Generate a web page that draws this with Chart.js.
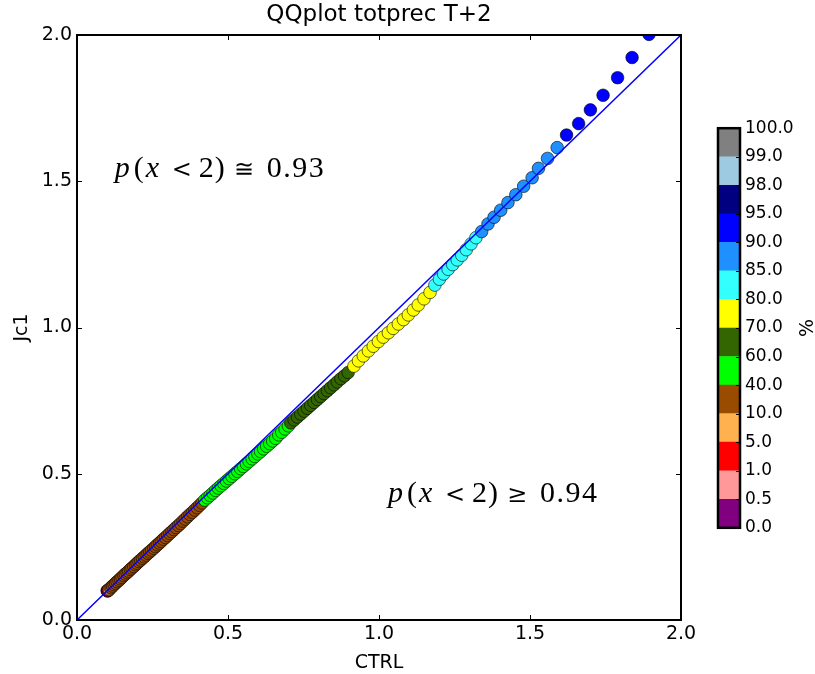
<!DOCTYPE html>
<html>
<head>
<meta charset="utf-8">
<script src="https://cdn.jsdelivr.net/npm/chart.js@4.4.1/dist/chart.umd.min.js"></script>
<style>
  html, body { margin: 0; padding: 0; background: #fff; }
  #wrap { position: relative; width: 815px; height: 674px; }
  #qq { position: absolute; left: 0; top: 0; }
  #cbar { position: absolute; left: 700px; top: 113px; }
</style>
</head>
<body>
<div id="wrap">
  <canvas id="qq" width="815" height="674"></canvas>
  <canvas id="cbar" width="115" height="430"></canvas>
</div>
<script>
// quantile pairs (CTRL, Jc1), split by percentile band
const purpleX = [0.100];
const purpleY = [0.100];
const pinkX = [0.101];
const pinkY = [0.100];
const redX = [0.102, 0.103, 0.104];
const redY = [0.100, 0.101, 0.102];
const orangeX = [0.106, 0.108, 0.111];
const orangeY = [0.104, 0.106, 0.109];
const brownX = [0.113, 0.118, 0.123, 0.128, 0.133, 0.139, 0.144, 0.149, 0.155, 0.160, 0.166, 0.171,
  0.177, 0.182, 0.188, 0.194, 0.199, 0.205, 0.211, 0.217, 0.223, 0.229, 0.235, 0.241, 0.247, 0.254,
  0.260, 0.266, 0.273, 0.279, 0.286, 0.293, 0.300, 0.307, 0.314, 0.321, 0.328, 0.336, 0.343, 0.351,
  0.358, 0.366, 0.374, 0.382, 0.390, 0.398, 0.406, 0.414];
const brownY = [0.111, 0.116, 0.121, 0.126, 0.131, 0.136, 0.141, 0.146, 0.152, 0.157, 0.162, 0.167,
  0.173, 0.178, 0.183, 0.189, 0.194, 0.200, 0.205, 0.211, 0.216, 0.222, 0.228, 0.233, 0.239, 0.245,
  0.251, 0.257, 0.263, 0.269, 0.276, 0.282, 0.289, 0.296, 0.302, 0.309, 0.316, 0.323, 0.330, 0.338,
  0.345, 0.353, 0.361, 0.368, 0.376, 0.384, 0.392, 0.400];
const limeX = [0.423, 0.432, 0.441, 0.450, 0.459, 0.468, 0.477, 0.486, 0.495, 0.504, 0.513, 0.523,
  0.532, 0.542, 0.551, 0.561, 0.570, 0.580, 0.589, 0.599, 0.608, 0.618, 0.628, 0.638, 0.648, 0.658,
  0.668, 0.678, 0.689, 0.700];
const limeY = [0.410, 0.418, 0.426, 0.434, 0.443, 0.451, 0.459, 0.467, 0.475, 0.483, 0.491, 0.500,
  0.508, 0.517, 0.525, 0.534, 0.542, 0.551, 0.559, 0.568, 0.576, 0.585, 0.594, 0.603, 0.612, 0.621,
  0.633, 0.642, 0.653, 0.664];
const dkgreenX = [0.708, 0.719, 0.730, 0.741, 0.752, 0.763, 0.774, 0.785, 0.796, 0.807, 0.818, 0.829,
  0.840, 0.851, 0.862, 0.874, 0.886, 0.898];
const dkgreenY = [0.674, 0.684, 0.694, 0.704, 0.714, 0.724, 0.734, 0.744, 0.754, 0.764, 0.774, 0.784,
  0.794, 0.804, 0.814, 0.825, 0.835, 0.846];
const yellowX = [0.917, 0.932, 0.948, 0.965, 0.981, 0.998, 1.014, 1.031, 1.047, 1.064, 1.081, 1.097,
  1.114, 1.130, 1.149, 1.169];
const yellowY = [0.868, 0.886, 0.903, 0.920, 0.936, 0.952, 0.967, 0.982, 0.997, 1.012, 1.027, 1.043,
  1.060, 1.077, 1.098, 1.120];
const cyanX = [1.185, 1.200, 1.214, 1.229, 1.244, 1.259, 1.274, 1.289, 1.305, 1.321];
const cyanY = [1.145, 1.165, 1.183, 1.199, 1.215, 1.231, 1.247, 1.266, 1.286, 1.307];
const dodgerX = [1.340, 1.361, 1.381, 1.403, 1.427, 1.453, 1.479, 1.507, 1.528, 1.558, 1.590];
const dodgerY = [1.328, 1.354, 1.377, 1.401, 1.427, 1.454, 1.483, 1.512, 1.544, 1.578, 1.615];
const blueX = [1.621, 1.661, 1.700, 1.742, 1.790, 1.838, 1.894];
const blueY = [1.658, 1.697, 1.744, 1.794, 1.854, 1.923, 2.002];

const diagX = [0, 2];
const diagY = [0, 2];

const axisTicks = [0, 0.5, 1.0, 1.5, 2.0];
const cbarLabels = ['0.0', '0.5', '1.0', '5.0', '10.0', '40.0', '60.0', '70.0', '80.0', '85.0', '90.0', '95.0', '98.0', '99.0', '100.0'];
const cbarColors = ['#800080', '#ff9999', '#ff0000', '#ffb04f', '#994c00', '#00ff00', '#336600',
  '#ffff00', '#33ffff', '#1e90ff', '#0000ff', '#000080', '#9ecae1', '#808080'];

const FONT = 'DejaVu Sans';

function zip(xs, ys) {
    return xs.map((x, i) => ({ x: x, y: ys[i] }));
}

const groups = [
    [purpleX, purpleY, cbarColors[0]],
    [pinkX, pinkY, cbarColors[1]],
    [redX, redY, cbarColors[2]],
    [orangeX, orangeY, cbarColors[3]],
    [brownX, brownY, cbarColors[4]],
    [limeX, limeY, cbarColors[5]],
    [dkgreenX, dkgreenY, cbarColors[6]],
    [yellowX, yellowY, cbarColors[7]],
    [cyanX, cyanY, cbarColors[8]],
    [dodgerX, dodgerY, cbarColors[9]],
    [blueX, blueY, cbarColors[10]]
];

// draws frame, inward ticks on all sides, title and the two p() annotations
const qqDecor = {
    id: 'qqDecor',
    afterDatasetsDraw(chart) {
        const { ctx, chartArea: a, scales } = chart;
        ctx.save();
        ctx.strokeStyle = '#000';
        ctx.lineWidth = 1;
        axisTicks.forEach(v => {
            const px = Math.round(scales.x.getPixelForValue(v)) + 0.5;
            const py = Math.round(scales.y.getPixelForValue(v)) + 0.5;
            ctx.beginPath();
            ctx.moveTo(px, a.bottom); ctx.lineTo(px, a.bottom - 5);
            ctx.moveTo(px, a.top); ctx.lineTo(px, a.top + 5);
            ctx.moveTo(a.left, py); ctx.lineTo(a.left + 5, py);
            ctx.moveTo(a.right, py); ctx.lineTo(a.right - 5, py);
            ctx.stroke();
        });
        ctx.lineWidth = 2;
        ctx.strokeRect(a.left, a.top, a.right - a.left, a.bottom - a.top);

        ctx.fillStyle = '#000';
        ctx.font = '23px "' + FONT + '"';
        ctx.textAlign = 'center';
        ctx.textBaseline = 'middle';
        ctx.fillText('QQplot totprec T+2', (a.left + a.right) / 2, 15);

        drawMath(ctx, scales.x.getPixelForValue(0.125), scales.y.getPixelForValue(1.515), '\u2245');
        drawMath(ctx, scales.x.getPixelForValue(1.03), scales.y.getPixelForValue(0.403), '\u2265');
        ctx.restore();
    }
};

// mathtext-like layout: pieces placed at offsets from the start (px)
function drawMath(ctx, x, y, rel) {
    const it = 'italic 30px "Liberation Serif"';
    const rm = '30px "Liberation Serif"';
    const sym = '24px "DejaVu Serif"';
    const num = rel === '\u2245' ? '0.93' : '0.94';
    const parts = [[it, 'p', 0], [rm, '(', 19], [it, 'x', 31], [sym, '<', 57], [rm, '2', 84],
        [rm, ')', 100], [sym, rel, 119], [rm, num, 152]];
    ctx.textAlign = 'left';
    ctx.textBaseline = 'alphabetic';
    parts.forEach(p => {
        ctx.font = p[0];
        ctx.letterSpacing = p[1] === num ? '1.5px' : '0px';
        ctx.fillText(p[1], x + p[2], y);
    });
    ctx.letterSpacing = '0px';
}

const datasets = [{
    type: 'line',
    data: zip(diagX, diagY),
    borderColor: '#0000ff',
    borderWidth: 1.5,
    pointRadius: 0,
    fill: false,
    order: 0,
    clip: 0
}];
groups.forEach((g, i) => {
    datasets.push({
        type: 'scatter',
        data: zip(g[0], g[1]),
        backgroundColor: g[2],
        borderColor: 'rgba(0,0,0,0.75)',
        borderWidth: 0.8,
        pointRadius: 6.3,
        order: 100 - i,
        clip: 0
    });
});

const tickFont = { family: FONT, size: 19 };

new Chart(document.getElementById('qq'), {
    type: 'scatter',
    data: { datasets: datasets },
    plugins: [qqDecor],
    options: {
        responsive: false,
        animation: false,
        layout: { padding: { top: 35, right: 134, left: 0, bottom: 0 } },
        plugins: { legend: { display: false }, tooltip: { enabled: false }, title: { display: false } },
        scales: {
            x: {
                type: 'linear', min: 0, max: 2,
                afterFit: s => { s.height = 54; },
                afterBuildTicks: s => { s.ticks = axisTicks.map(v => ({ value: v })); },
                ticks: { padding: 3, color: '#000', font: tickFont, maxRotation: 0, callback: v => v.toFixed(1) },
                grid: { display: false, drawTicks: false },
                border: { display: false },
                title: { display: true, text: 'CTRL', color: '#000', font: tickFont, padding: { top: 0, bottom: 0 } }
            },
            y: {
                type: 'linear', min: 0, max: 2,
                afterFit: s => { s.width = 77; },
                afterBuildTicks: s => { s.ticks = axisTicks.map(v => ({ value: v })); },
                ticks: { padding: 5, color: '#000', font: tickFont, callback: v => v.toFixed(1) },
                grid: { display: false, drawTicks: false },
                border: { display: false },
                title: { display: true, text: 'Jc1', color: '#000', font: tickFont, padding: { top: 11, bottom: 0 } }
            }
        }
    }
});

// colorbar: one stacked bar, one segment per percentile band
const cbarFrame = {
    id: 'cbarFrame',
    afterDraw(chart) {
        const { ctx, chartArea: a, scales } = chart;
        ctx.save();
        ctx.strokeStyle = '#000';
        ctx.lineWidth = 1;
        for (let i = 1; i < cbarLabels.length - 1; i++) {
            const py = Math.round(scales.y.getPixelForValue(i)) + 0.5;
            ctx.beginPath();
            ctx.moveTo(a.right, py); ctx.lineTo(a.right - 4, py);
            ctx.stroke();
        }
        ctx.lineWidth = 2.5;
        ctx.strokeRect(a.left, a.top, a.right - a.left, a.bottom - a.top);
        ctx.fillStyle = '#000';
        ctx.font = '19px "' + FONT + '"';
        ctx.textAlign = 'center';
        ctx.textBaseline = 'middle';
        ctx.translate(108, (a.top + a.bottom) / 2);
        ctx.rotate(-Math.PI / 2);
        ctx.fillText('%', 0, 0);
        ctx.restore();
    }
};

new Chart(document.getElementById('cbar'), {
    type: 'bar',
    data: {
        labels: [''],
        datasets: cbarColors.map(c => ({
            data: [1],
            backgroundColor: c,
            borderWidth: 0,
            barPercentage: 1,
            categoryPercentage: 1
        }))
    },
    plugins: [cbarFrame],
    options: {
        responsive: false,
        animation: false,
        layout: { padding: { left: 18, top: 10, bottom: 10, right: 0 } },
        plugins: { legend: { display: false }, tooltip: { enabled: false } },
        scales: {
            x: { stacked: true, display: false },
            y: {
                stacked: true, position: 'right', min: 0, max: 14,
                afterFit: s => { s.width = 75; },
                afterBuildTicks: s => { s.ticks = cbarLabels.map((l, i) => ({ value: i })); },
                ticks: { padding: 5, color: '#000', font: { family: FONT, size: 17 }, callback: v => cbarLabels[v] },
                grid: { display: false, drawTicks: false },
                border: { display: false }
            }
        }
    }
});
</script>
</body>
</html>
